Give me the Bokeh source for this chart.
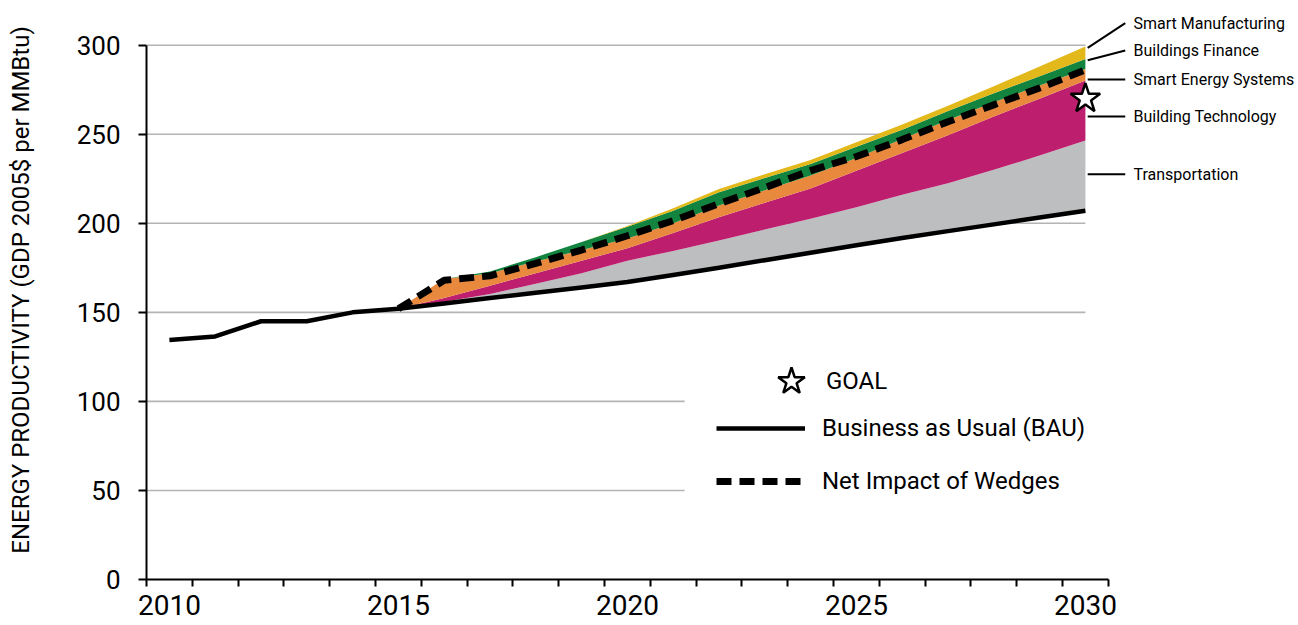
import numpy as np
from bokeh.plotting import figure
from bokeh.models import FixedTicker, Legend, LegendItem, BoxAnnotation, Range1d
from bokeh.core.properties import value
from bokeh.embed import file_html
from bokeh.resources import INLINE

FONT = "Roboto"

# ---------------- data ----------------
years = list(range(2010, 2031))
bau = [134.5, 136.5, 145, 145, 150, 152, 155, 158, 161, 164, 167, 171, 175,
       179.3, 183.5, 187.7, 191.7, 195.6, 199.4, 203.2, 207]

wedge_years = list(range(2015, 2031))
transportation = [0, 1, 2.3, 5, 8, 12, 13.5, 15.3, 17.2, 19, 21.3, 24.3, 26.9, 30.6, 34.8, 39.5]
building_technology = [0, 2, 4.7, 6, 7, 7, 10, 13.1, 15, 17, 20.5, 23.5, 27, 30, 32, 33.7]
smart_energy_systems = [0, 10.7, 7, 6.5, 6, 5.5, 5.5, 6.6, 7, 7.3, 7.2, 7.8, 8.5, 8, 7.4, 6.5]
buildings_finance = [0, 0, 1, 2.5, 4.5, 6.5, 7, 7.4, 7, 6.5, 6.3, 5.2, 5, 5, 5.1, 5.6]
smart_manufacturing = [0, 0, 0, 0, 0, 0.5, 1.5, 1.9, 2, 2.3, 2.5, 3, 3, 4, 5.5, 7]
net_impact = [152, 168, 170.5, 177.5, 185, 193, 201.5, 211, 220, 229.6, 237.5,
              247, 257, 266.5, 276, 286.2]
goal_year = [2030]
goal_value = [270]

wedge_names = ["Transportation", "Building Technology", "Smart Energy Systems",
               "Buildings Finance", "Smart Manufacturing"]
wedge_colors = ["#bcbec0", "#be1e6e", "#e8893e", "#12843f", "#e2b81a"]
wedge_label_y = [227.6, 260, 280.7, 297, 312.4]

x_tick_labels = [2010, 2015, 2020, 2025, 2030]
y_ticks = [0, 50, 100, 150, 200, 250, 300]
y_title = "ENERGY PRODUCTIVITY (GDP 2005$ per MMBtu)"

# ---------------- figure ----------------
W, H = 1298, 625
LEFT = 146
PX_PER_YEAR = 45.8
X_END = 2009.5 + (W - LEFT) / PX_PER_YEAR
FRAME_H = 579
Y_END = FRAME_H / ((FRAME_H - 44.7) / 300.0)

p = figure(width=W, height=H, output_backend="svg", toolbar_location=None, title=None,
           x_range=Range1d(2009.5, X_END), y_range=Range1d(0, Y_END),
           min_border_left=LEFT, min_border_right=0, min_border_top=0,
           min_border_bottom=H - FRAME_H)
p.outline_line_color = None
p.xgrid.visible = False
p.ygrid.visible = False
p.background_fill_color = "white"
p.border_fill_color = "white"

first_edge = years[0] - 0.5
last_edge = years[-1] + 0.5

# gridlines (to the last data year)
grid_vals = [v for v in y_ticks if v > 0]
p.segment(x0=[first_edge] * len(grid_vals), x1=[years[-1]] * len(grid_vals),
          y0=grid_vals, y1=grid_vals, line_color="#b4b4b4", line_width=1.6)

# stacked wedges on top of BAU
wedges = [transportation, building_technology, smart_energy_systems,
          buildings_finance, smart_manufacturing]
bottom = np.array(bau[years.index(wedge_years[0]):], dtype=float)
bands = []
for vals, col in zip(wedges, wedge_colors):
    top = bottom + np.array(vals, dtype=float)
    p.varea(x=wedge_years, y1=bottom, y2=top, fill_color=col)
    bands.append((bottom[-1], top[-1]))
    bottom = top

bau_r = p.line(years, bau, line_color="black", line_width=4.5)
net_r = p.line(wedge_years, net_impact, line_color="black", line_width=7, line_dash="15 8")
goal_r = p.scatter(goal_year, goal_value, marker="star", size=31, fill_color="white",
                   line_color="black", line_width=2.5)

# leader lines + wedge labels at right
x_start = wedge_years[-1] + 0.05
x_end = wedge_years[-1] + 0.87
x_text = wedge_years[-1] + 1.05
y_start = [min(max(ly, b0 + 0.3), b1 - 0.8) for ly, (b0, b1) in zip(wedge_label_y, bands)]
p.segment(x0=[x_start] * 5, x1=[x_end] * 5, y0=y_start, y1=wedge_label_y,
          line_color="black", line_width=2)
p.text(x=[x_text] * 5, y=wedge_label_y, text=wedge_names, text_font=value(FONT),
       text_font_size="16px", text_baseline="middle", text_align="left", text_color="black")

# axes
xa = p.xaxis[0]
xa.ticker = FixedTicker(ticks=x_tick_labels,
                        minor_ticks=[first_edge + i for i in range(len(years) + 1)])
xa.bounds = (first_edge, last_edge)
xa.major_tick_out = 0
xa.major_tick_in = 0
xa.minor_tick_out = 7
xa.minor_tick_in = 0
xa.minor_tick_line_width = 2
xa.minor_tick_line_color = "black"
xa.axis_line_width = 2
xa.axis_line_color = "black"
xa.major_label_text_font = FONT
xa.major_label_text_font_size = "28px"
xa.major_label_text_line_height = 1.0
xa.major_label_text_color = "black"
xa.major_label_standoff = 8

ya = p.yaxis[0]
ya.ticker = FixedTicker(ticks=y_ticks, minor_ticks=[])
ya.bounds = (0, 300)
ya.major_tick_out = 8
ya.major_tick_in = 0
ya.major_tick_line_width = 2
ya.axis_line_width = 2
ya.axis_line_color = "black"
ya.major_label_text_font = FONT
ya.major_label_text_font_size = "26px"
ya.major_label_text_color = "black"
ya.major_label_standoff = 18
ya.axis_label = y_title
ya.axis_label_text_font = FONT
ya.axis_label_text_font_size = "24px"
ya.axis_label_text_font_style = "normal"
ya.axis_label_text_color = "black"
ya.axis_label_standoff = 39

# legend background (hides gridlines beneath legend)
p.add_layout(BoxAnnotation(left=2021.25, right=X_END, bottom=36, top=128,
                           fill_color="white", fill_alpha=1, line_color=None))

leg_goal = Legend(items=[LegendItem(label="GOAL", renderers=[goal_r])],
                  location=(610, 163), glyph_width=70, glyph_height=70,
                  label_standoff=0, padding=0, margin=0, border_line_color=None,
                  background_fill_alpha=0, label_text_font=FONT,
                  label_text_font_size="24px", label_text_color="black")
leg_lines = Legend(items=[LegendItem(label="Business as Usual (BAU)", renderers=[bau_r]),
                          LegendItem(label="Net Impact of Wedges", renderers=[net_r])],
                   location=(570, 83), glyph_width=89, glyph_height=30, label_height=30,
                   spacing=23, label_standoff=17, padding=0, margin=0,
                   border_line_color=None, background_fill_alpha=0,
                   label_text_font=FONT, label_text_font_size="24px",
                   label_text_color="black")
p.add_layout(leg_goal)
p.add_layout(leg_lines)

open("out.html", "w").write(file_html(p, INLINE))
